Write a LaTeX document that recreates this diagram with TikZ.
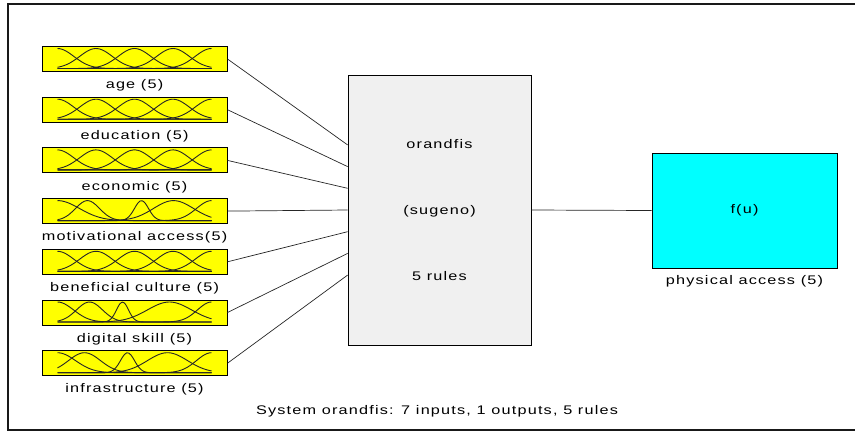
\documentclass[tikz,border=0pt]{standalone}
\usepackage{fontspec}
\setmainfont{Liberation Sans}[FakeStretch=1.3, LetterSpace=9.5]
\usetikzlibrary{positioning}
\definecolor{fiscyan}{RGB}{0,255,255}
\definecolor{fisyellow}{RGB}{255,255,0}
\tikzset{
  every node/.style={font=\fontsize{12.5pt}{15pt}\selectfont},
  mfbox/.style={rectangle, draw=black, fill=fisyellow, line width=1pt, minimum width=185pt, minimum height=25pt, inner sep=0pt},
  mftext/.style={inner sep=0pt, label distance=7.5pt},
  mfline/.style={draw=black!85, line width=0.9pt},
  wire/.style={draw=black!85, line width=0.7pt},
}
% membership curves of one input box: list of centre/spread
\newcommand{\mfcurves}[2]{%
  \begin{scope}[shift={(#1.north west)}]
    \foreach \ctr/\wid in {#2}
      \draw[mfline] plot[domain=16:170, samples=70, smooth] (\x, {22.5-20*exp(-0.5*((\x-\ctr)/\wid)^2)});
  \end{scope}}

\begin{document}
\begin{tikzpicture}[x=1pt, y=-1pt]
  \useasboundingbox (0,0) rectangle (855,432);
  \draw[line width=2pt, black!90] (875,3.5) -- (7.5,3.5) -- (7.5,430) -- (875,430);

  % inputs
  \node (in1) [mfbox, label={[mftext]below:age (5)}] at (134.5,59) {};
  \node (in2) [mfbox, below=24.7pt of in1, label={[mftext]below:education (5)}] {};
  \node (in3) [mfbox, below=24.7pt of in2, label={[mftext]below:economic (5)}] {};
  \node (in4) [mfbox, below=24.7pt of in3, label={[mftext]below:motivational access(5)}] {};
  \node (in5) [mfbox, below=24.7pt of in4, label={[mftext]below:beneficial culture (5)}] {};
  \node (in6) [mfbox, below=24.7pt of in5, label={[mftext]below:digital skill (5)}] {};
  \node (in7) [mfbox, below=24.7pt of in6, label={[mftext]below:infrastructure (5)}] {};

  \mfcurves{in1}{16/16.3, 54.5/16.3, 93/16.3, 131.5/16.3, 170/16.3}
  \mfcurves{in2}{16/16.3, 54.5/16.3, 93/16.3, 131.5/16.3, 170/16.3}
  \mfcurves{in3}{16/16.3, 54.5/16.3, 93/16.3, 131.5/16.3, 170/16.3}
  \mfcurves{in4}{16/22, 46/12, 100/7, 132/20, 170/15}
  \mfcurves{in5}{16/16.3, 54.5/16.3, 93/16.3, 131.5/16.3, 170/16.3}
  \mfcurves{in6}{16/16, 48/13, 81/6, 128/22, 170/14}
  \mfcurves{in7}{16/18, 43/16, 86/7, 126/20, 170/15}

  % rule block and output
  \node (sys) [rectangle, draw=black, fill=black!6, line width=0.8pt, minimum width=183pt, minimum height=270pt, align=center] at (439.5,210)
    {orandfis\\[51pt](sugeno)\\[51pt]5 rules};
  \node (out) [rectangle, draw=black, fill=fiscyan, line width=0.8pt, minimum width=185pt, minimum height=115pt,
    label={[mftext, label distance=7pt]below:physical access (5)}] at (744.5,210.5) {f(u)};

  \foreach \k in {1,...,7}
    \draw[wire] (in\k.east) -- ([yshift={(4-\k)*21.7pt}]sys.west);
  \draw[wire] (sys.east) -- (out.west);

  \node (title) at (437,411) {System orandfis: 7 inputs, 1 outputs, 5 rules};
\end{tikzpicture}
\end{document}
